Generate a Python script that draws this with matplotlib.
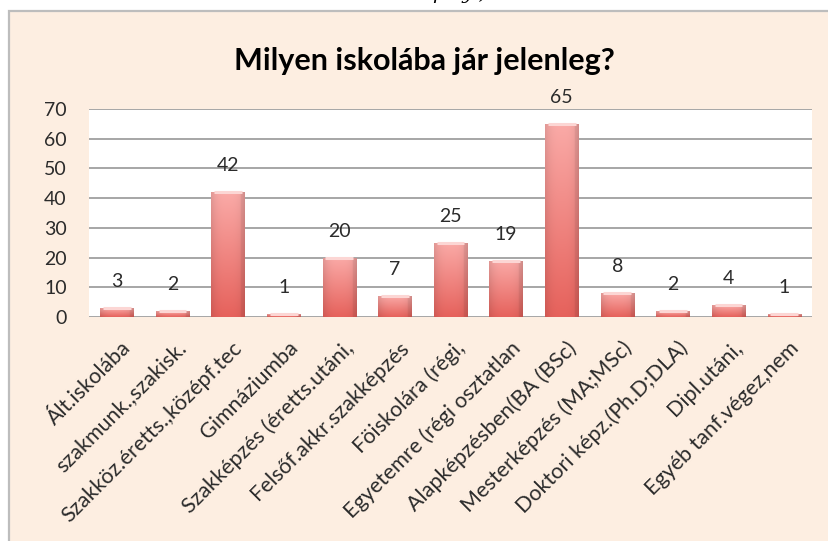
import matplotlib
matplotlib.use("Agg")
import matplotlib.pyplot as plt
import matplotlib.transforms as mtransforms
import numpy as np
from matplotlib.patches import Rectangle

plt.rcParams["font.family"] = ["Lato", "DejaVu Sans"]

TITLE = "Milyen iskolába jár jelenleg?"
CATEGORIES = [
    "Ált.iskolába", "szakmunk.,szakisk.", "Szakköz.éretts.,középf.tec",
    "Gimnáziumba", "Szakképzés (éretts.utáni,", "Felsőf.akkr.szakképzés",
    "Föiskolára (régi,", "Egyetemre (régi osztatlan", "Alapképzésben(BA (BSc)",
    "Mesterképzés (MA;MSc)", "Doktori képz.(Ph.D;DLA)", "Dipl.utáni,",
    "Egyéb tanf.végez,nem",
]
VALUES = [3, 2, 42, 1, 20, 7, 25, 19, 65, 8, 2, 4, 1]
YTICKS = [0, 10, 20, 30, 40, 50, 60, 70]

BG = "#FDEEE1"
TXT = "#2B2B2B"
GRID = "#A6A6A6"
C_TOP = np.array([250, 170, 167]) / 255
C_BOT = np.array([230, 98, 92]) / 255

W, H = 829, 541
fig = plt.figure(figsize=(W / 100, H / 100), dpi=100)
fig.patch.set_facecolor("white")

# chart frame (peach area with grey border)
frame = Rectangle((9 / W, -0.05), 1.1, (H - 11) / H + 0.05,
                  transform=fig.transFigure, facecolor=BG,
                  edgecolor="#BDBDBD", linewidth=1.6, zorder=-10)
fig.patches.append(frame)

# cropped text of the surrounding page
fig.text(0.555, 1.012, "pelyi)", ha="center", va="center", fontsize=14,
         family="DejaVu Serif", style="italic", color="black")

fig.text(424 / W, 1 - 61 / H, TITLE, ha="center", va="center",
         fontsize=22, fontweight="bold", color="black")

ax = fig.add_axes([89 / W, (H - 317) / H, 723 / W, 208 / H])
ax.set_facecolor("white")
for s in ax.spines.values():
    s.set_visible(False)

x = np.arange(len(CATEGORIES))
bw = 0.6

for yv in YTICKS:
    ax.axhline(yv, color=GRID, linewidth=1.4, zorder=1)

# gradient image for bars
ny, nx = 64, 32
t = np.linspace(0, 1, ny)[:, None, None]
grad = C_BOT * (1 - t) + C_TOP * t
u = np.linspace(-1, 1, nx)[None, :, None]
shade = 1 - 0.10 * np.abs(u) ** 3 - 0.06 * (u > 0.75)
img = np.clip(grad * shade, 0, 1)

bars = ax.bar(x, VALUES, width=bw, color=C_BOT, edgecolor="none", zorder=2)
for b, v in zip(bars, VALUES):
    x0 = b.get_x()
    im = ax.imshow(img, extent=(x0, x0 + bw, 0, v), origin="lower",
                   aspect="auto", zorder=3, interpolation="bilinear")
    im.set_clip_path(b)
    ax.plot([x0 + 0.05, x0 + bw - 0.05], [v, v], color="#FCD6D4",
            linewidth=2.2, zorder=4, solid_capstyle="butt")
    ax.annotate(f"{v}", (b.get_x() + bw / 2, v), xytext=(0, 19),
                textcoords="offset points", ha="center", va="center",
                fontsize=14, color=TXT, zorder=5)

ax.set_xlim(-0.5, len(CATEGORIES) - 0.5)
ax.set_ylim(0, 70)
ax.set_yticks(YTICKS)
ax.set_yticklabels([str(v) for v in YTICKS], fontsize=14, color=TXT)
ax.tick_params(axis="y", length=0, pad=16)
ax.set_xticks(x)
ax.set_xticklabels(CATEGORIES, rotation=45, ha="right", va="top",
                   rotation_mode="anchor", fontsize=15.5, color=TXT)
ax.tick_params(axis="x", length=0, pad=15)
shift = mtransforms.ScaledTranslation(4 / 100, 0, fig.dpi_scale_trans)
for lbl in ax.get_xticklabels():
    lbl.set_transform(lbl.get_transform() + shift)

fig.savefig("out.png", dpi=100, facecolor=fig.get_facecolor())
